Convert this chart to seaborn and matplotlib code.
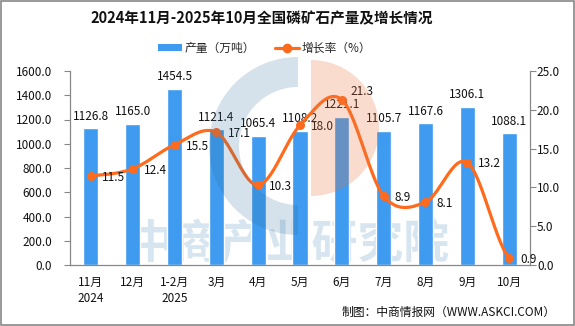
import numpy as np
import pandas as pd
import matplotlib
matplotlib.use("Agg")
import matplotlib.pyplot as plt
from matplotlib.patches import Wedge, Rectangle
from matplotlib.lines import Line2D
import seaborn as sns

# ---- data ----
categories = ["11月\n2024", "12月", "1-2月\n2025", "3月", "4月", "5月",
              "6月", "7月", "8月", "9月", "10月"]
production = [1126.8, 1165.0, 1454.5, 1121.4, 1065.4, 1108.2,
              1221.1, 1105.7, 1167.6, 1306.1, 1088.1]
growth = [11.5, 12.4, 15.5, 17.1, 10.3, 18.0, 21.3, 8.9, 8.1, 13.2, 0.9]
left_ticks = [0, 200, 400, 600, 800, 1000, 1200, 1400, 1600]
right_ticks = [0, 5, 10, 15, 20, 25]

BAR = "#3E9BF0"
ORANGE = "#FF6A1C"
W, H = 575, 326

sns.set_theme(style="white")
plt.rcParams['font.family'] = ['Noto Sans CJK SC', 'DejaVu Sans']
plt.rcParams['axes.unicode_minus'] = False

fig = plt.figure(figsize=(5.75, 3.26), dpi=100)
ax = fig.add_axes([70/W, 1-265/H, 460/W, 194/H])
ax.patch.set_alpha(0)

df = pd.DataFrame({"cat": categories, "val": production})
sns.barplot(data=df, x="cat", y="val", color=BAR, saturation=1, width=0.36,
            ax=ax, zorder=2)
ax.set_xlim(-0.5, len(categories) - 0.5)
ax.set_ylim(0, 1600)
ax.set_yticks(left_ticks)
ax.set_yticklabels([f"{v:.1f}" for v in left_ticks])
ax.set_xlabel("")
ax.set_ylabel("")
for i, v in enumerate(production):
    ax.text(i, v + 45, f"{v:.1f}", ha="center", va="bottom", fontsize=8.5,
            color="#111111", zorder=5)

# x ticks: labels at centres, tick marks at boundaries
ax.set_xticks(range(len(categories)))
ax.set_xticklabels(categories, fontsize=8.5, linespacing=1.25)
ax.set_xticks(np.arange(-0.5, len(categories), 1.0), minor=True)
ax.tick_params(axis="x", which="major", length=0, pad=8, colors="#111111")
ax.tick_params(axis="x", which="minor", length=4, width=0.8, color="#888888",
               direction="out")
ax.tick_params(axis="y", length=4, width=0.8, color="#888888", direction="out",
               labelsize=8.5, labelcolor="#111111", pad=9, left=True)
for s in ["top", "right"]:
    ax.spines[s].set_visible(False)
for s in ["left", "bottom"]:
    ax.spines[s].set_color("#888888")
    ax.spines[s].set_linewidth(0.9)

# ---- line on secondary axis ----
ax2 = ax.twinx()
ax2.patch.set_alpha(0)
ax2.set_ylim(0, 25)
ax2.set_yticks(right_ticks)
ax2.set_yticklabels([f"{v:.1f}" for v in right_ticks])
ax2.tick_params(axis="y", length=4, width=0.8, color="#888888", direction="out",
                labelsize=8.5, labelcolor="#111111", pad=1)
for s in ["top", "left", "bottom"]:
    ax2.spines[s].set_visible(False)
ax2.spines["right"].set_color("#888888")
ax2.spines["right"].set_linewidth(0.9)

# smoothed (Catmull-Rom style) line through the points, for display
y = np.array(growth, dtype=float)
n = len(y)
m = np.zeros(n)
m[1:-1] = (y[2:] - y[:-2]) / 2
m[0] = (y[1] - y[0]) / 2
m[-1] = (y[-1] - y[-2]) / 2
xs, ys = [], []
t = np.linspace(0, 1, 30)
for i in range(n - 1):
    h00 = 2*t**3 - 3*t**2 + 1
    h10 = t**3 - 2*t**2 + t
    h01 = -2*t**3 + 3*t**2
    h11 = t**3 - t**2
    xs.extend(i + t)
    ys.extend(h00*y[i] + h10*m[i] + h01*y[i+1] + h11*m[i+1])
curve = pd.DataFrame({"x": xs, "y": ys})
sns.lineplot(data=curve, x="x", y="y", ax=ax2, color=ORANGE, linewidth=2.3,
             zorder=3, sort=False)
pts = pd.DataFrame({"x": np.arange(n), "y": growth})
sns.scatterplot(data=pts, x="x", y="y", ax=ax2, color=ORANGE, s=42,
                edgecolor=ORANGE, linewidth=0, zorder=4)
ax2.set_xlabel("")
ax2.set_ylabel("")
offsets = {6: (6, 6)}
for i, v in enumerate(growth):
    dx, dy = offsets.get(i, (8, -1))
    ax2.annotate(f"{v:.1f}", (i, v), xytext=(dx, dy), textcoords="offset points",
                 ha="left", va="center", fontsize=8.5, color="#111111", zorder=6)

# ---- watermark (behind: text; on top, translucent: logo) ----
fig.text(289/W, 1-245/H, "中商产业研究院", ha="center", va="center",
         fontsize=33, fontweight="bold", color="#D6E5EF", zorder=-1)
inch = fig.dpi_scale_trans
fig.patches.append(Wedge((2.98, (H-146)/100), 0.89, 90, 270, width=0.30,
                         transform=inch, facecolor="#2E6E9E",
                         edgecolor="none", alpha=0.2, zorder=8))
fig.patches.append(Wedge((3.11, (H-128)/100), 0.68, -90, 90,
                         transform=inch, facecolor="#E8763E",
                         edgecolor="none", alpha=0.25, zorder=8))

# ---- title, legend, source ----
fig.text(0.455, 1-18/H, "2024年11月-2025年10月全国磷矿石产量及增长情况",
         ha="center", va="center", fontsize=10.5, fontweight="bold",
         color="#111111")
handles = [Rectangle((0, 0), 1, 1, facecolor=BAR, edgecolor="none"),
           Line2D([0], [0], color=ORANGE, lw=2.3, marker="o", markersize=6)]
fig.legend(handles, ["产量（万吨）", "增长率（%）"], loc="center",
           bbox_to_anchor=(0.46, 1-48/H), ncol=2, frameon=False,
           fontsize=8.5, handlelength=2.05, handleheight=0.6, columnspacing=1.7,
           handletextpad=0.2)
fig.text(556/W, 1-312/H, "制图：中商情报网（WWW.ASKCI.COM）", ha="right",
         va="center", fontsize=8.5, color="#111111")

fig.patches.append(Rectangle((0.001, 0.002), 0.997, 0.995,
                             transform=fig.transFigure, fill=False,
                             edgecolor="#888888", linewidth=1.2, zorder=10))

fig.savefig("out.png", dpi=100)
